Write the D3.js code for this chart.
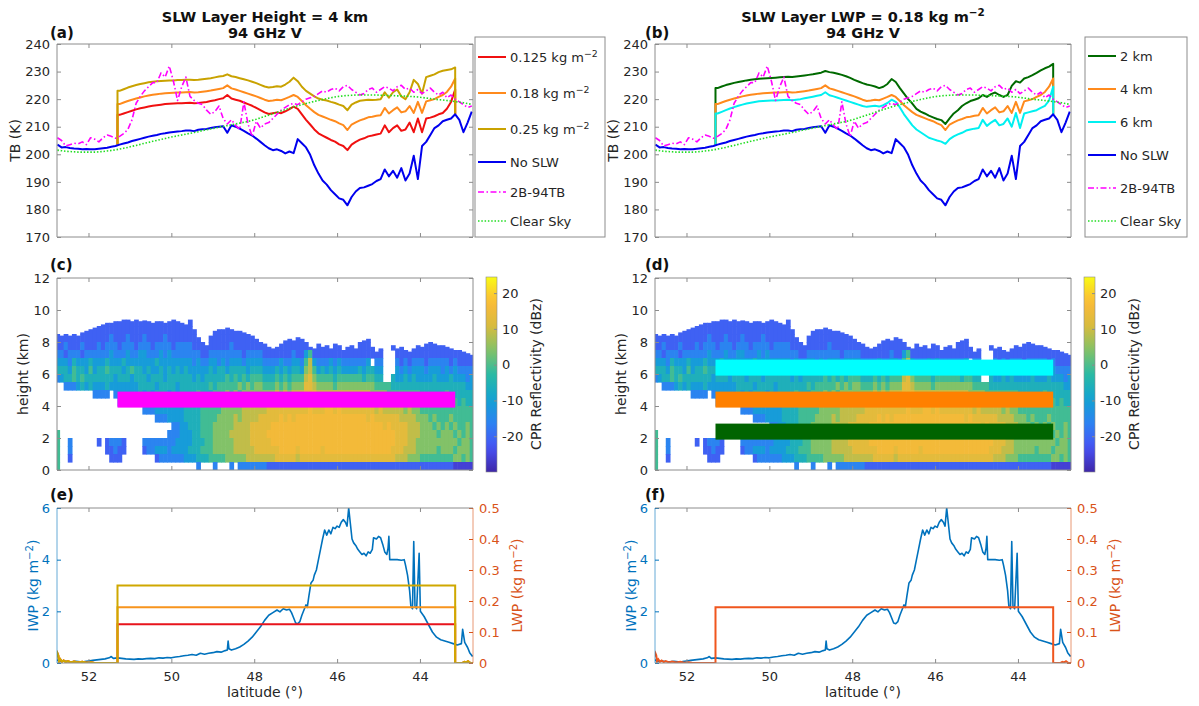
<!DOCTYPE html>
<html>
<head>
<meta charset="utf-8">
<script src="https://cdn.jsdelivr.net/npm/d3@7"></script>
<style>
  body { margin: 0; background: #fff; }
  svg { font-family: "DejaVu Sans", sans-serif; }
</style>
</head>
<body>
<svg id="fig" width="1199" height="706"></svg>
<script>
// ---------------- data ----------------
// TB lines and radar columns are sampled every 0.1 deg, 52.75 N -> 42.75 N
const LAT0 = 52.75, DLAT = 0.1
const latTicks = [52, 50, 48, 46, 44]
const tbTicks = [170, 180, 190, 200, 210, 220, 230, 240]
const heightTicks = [0, 2, 4, 6, 8, 10, 12]
const dbzTicks = [-20, -10, 0, 10, 20]
const iwpTicks = [0, 2, 4, 6]
const lwpTicks = [0, 0.1, 0.2, 0.3, 0.4, 0.5]

const tbNoSlw = [
  203.5,202.5,202.6,202.3,202.1,202.0,201.8,201.9,201.8,201.8,
  202.0,202.2,202.4,202.7,203.0,203.5,203.9,204.3,204.8,205.2,
  205.6,206.0,206.4,206.7,207.0,207.4,207.6,207.9,208.1,208.3,
  208.4,208.6,208.6,208.4,208.9,209.1,209.2,209.5,209.8,210.0,
  210.2,207.8,210.5,210.0,209.3,208.5,207.6,206.8,205.7,204.5,
  203.3,202.2,201.5,201.8,201.2,200.3,201.0,200.4,205.5,204.0,
  202.5,199.8,196.0,193.0,190.5,189.0,187.0,185.5,184.0,183.5,
  181.5,184.5,186.5,187.8,188.0,188.6,189.2,190.3,191.0,194.5,
  192.0,194.0,191.5,195.0,190.5,193.0,199.5,191.0,203.0,204.5,
  207.0,209.5,210.5,212.0,212.5,213.0,214.5,212.5,208.0,211.5,
  215.5]

const tb2B94 = [
  206.0,205.0,203.0,203.5,204.0,203.8,204.5,203.5,206.0,205.5,
  204.5,206.0,207.0,206.5,205.8,206.5,207.5,209.0,212.5,218.5,
  221.0,223.0,224.5,226.0,226.0,229.5,228.0,232.0,226.5,219.5,
  224.5,228.0,221.0,219.5,218.5,218.0,216.0,214.5,215.5,217.5,
  213.0,211.0,212.5,210.5,209.0,219.0,211.0,206.5,212.0,209.5,
  211.0,211.5,213.0,214.5,216.0,217.0,218.0,218.5,218.0,219.0,
  220.0,220.5,221.0,222.0,223.0,222.5,223.5,224.0,223.0,224.5,
  225.0,223.5,222.5,221.5,222.0,223.5,224.0,222.5,223.5,224.5,
  224.0,223.0,224.5,225.0,223.5,224.0,222.5,223.5,222.0,223.0,
  224.0,222.5,221.5,222.5,220.5,221.5,220.0,219.0,218.0,217.0,
  217.5]

const tbClearSky = [
  201.5,201.3,201.1,201.0,200.9,200.8,200.8,200.8,200.8,200.8,
  200.9,201.0,201.2,201.4,201.6,201.9,202.2,202.5,202.9,203.2,
  203.6,204.0,204.3,204.7,205.0,205.4,205.7,206.1,206.4,206.7,
  207.0,207.3,207.6,207.9,208.2,208.6,208.9,209.2,209.5,209.8,
  210.1,210.4,210.7,211.0,211.3,211.6,211.9,212.3,212.7,213.2,
  213.7,214.2,214.7,215.2,215.7,216.2,216.7,217.2,217.6,218.0,
  218.4,218.8,219.2,219.5,219.9,220.2,220.5,220.8,221.0,221.2,
  221.3,221.4,221.5,221.5,221.5,221.5,221.5,221.5,221.4,221.4,
  221.3,221.3,221.2,221.2,221.1,221.0,220.9,220.8,220.6,220.4,
  220.2,220.0,219.8,219.7,219.5,219.3,219.1,218.9,218.7,218.4,
  218.1]

// SLW layer present from 51.3 N to 43.15 N; series below start at grid index 15 (51.25 N)
const slwStart = 51.3, slwEnd = 43.15, SLW_I0 = 15
const tbLwp125 = [
  214.3,214.8,215.3,215.8,216.3,216.7,217.0,217.3,217.6,217.8,
  218.0,218.2,218.3,218.4,218.5,218.5,218.6,218.7,218.5,218.6,
  218.8,219.0,219.3,219.6,220.0,220.3,221.5,220.2,219.8,219.4,
  218.8,218.2,217.6,216.8,216.0,215.2,214.6,214.9,215.2,214.9,
  215.6,216.4,217.3,216.5,214.5,212.5,210.8,209.0,207.6,206.8,
  206.0,205.2,204.6,203.6,203.0,201.5,203.5,204.5,205.3,205.8,
  206.5,206.8,207.2,207.5,210.5,208.0,209.5,210.5,208.5,209.0,
  211.5,208.0,213.0,208.0,213.0,213.3,213.8,214.5,215.0,216.5,
  219.0,223.5]
// 0.18 kg m-2 at 4 km: same run in (a) and (b)
const tbLwp018 = [
  218.2,218.8,219.3,219.8,220.2,220.6,221.0,221.3,221.6,221.8,
  222.0,222.1,222.2,222.3,222.4,222.4,222.5,222.6,222.4,222.5,
  222.7,222.9,223.1,223.4,223.7,224.0,225.0,223.9,223.5,223.0,
  222.5,222.0,221.5,221.0,220.4,219.8,219.3,219.5,219.8,219.6,
  220.2,220.8,221.5,220.8,219.3,217.8,216.5,215.3,214.3,213.7,
  213.1,212.5,212.0,211.2,210.6,208.8,210.8,211.6,212.3,212.8,
  213.4,213.6,214.0,214.2,216.8,214.8,216.0,217.0,215.2,215.6,
  217.5,215.0,219.0,215.0,219.2,219.6,220.0,220.8,221.5,222.6,
  224.5,227.5]
const tbLwp025 = [
  223.0,223.6,224.2,224.7,225.1,225.5,225.8,226.1,226.3,226.5,
  226.6,226.7,226.8,226.8,226.9,226.9,227.0,227.0,226.9,227.0,
  227.2,227.4,227.6,227.9,228.2,228.4,229.0,228.3,228.0,227.6,
  227.2,226.8,226.3,225.8,225.2,224.6,224.2,224.4,224.7,224.5,
  225.3,226.3,227.8,226.5,224.5,223.0,222.0,221.0,220.2,219.8,
  219.5,219.0,218.6,218.0,217.5,216.0,218.0,218.8,219.4,219.6,
  219.8,219.7,219.8,220.0,222.5,220.5,222.5,223.5,221.0,220.0,
  222.5,227.0,225.5,222.0,228.0,228.5,229.0,229.8,230.3,230.6,
  230.8,231.5]
const tbH2km = [
  224.0,224.6,225.1,225.5,225.9,226.2,226.5,226.8,227.0,227.2,
  227.4,227.5,227.6,227.7,227.8,227.9,228.0,228.1,228.0,228.2,
  228.4,228.6,228.8,229.0,229.3,229.6,230.2,229.8,229.6,229.2,
  228.8,228.3,227.7,227.0,226.4,225.8,225.3,225.0,224.6,224.0,
  224.5,225.5,227.3,226.2,224.0,222.0,220.0,218.4,216.5,215.5,
  214.8,214.0,213.4,212.8,212.4,211.0,213.0,214.8,216.0,217.5,
  218.5,219.3,219.8,220.3,221.5,220.8,221.8,222.4,221.5,220.8,
  221.5,224.8,226.5,226.0,227.5,228.0,228.7,229.5,230.4,231.2,
  231.8,232.8]
const tbH6km = [
  214.8,215.4,216.0,216.6,217.1,217.6,218.0,218.4,218.7,219.0,
  219.2,219.3,219.4,219.5,219.5,219.6,219.7,219.8,219.6,219.8,
  220.0,220.3,220.6,220.9,221.2,221.5,222.5,221.4,221.0,220.5,
  220.0,219.5,219.0,218.5,218.0,217.5,217.2,217.4,217.6,217.3,
  217.8,218.6,219.8,219.0,217.0,214.5,212.5,210.5,209.0,208.0,
  207.0,206.0,205.5,205.0,204.6,203.8,205.5,206.5,207.2,207.8,
  208.6,209.0,209.3,209.5,212.5,210.3,211.5,212.5,210.5,211.0,
  213.0,210.0,215.0,209.5,214.8,215.2,215.6,216.0,216.8,217.6,
  219.5,224.5]

const lwpLevels = [0.125, 0.18, 0.25]
const layerHeights = [2, 4, 6]   // SLW layer bottoms (km)

const iwpLat = [52.76,52.74,52.70,52.60,52.50,52.40,52.30,52.20,52.10,52.00,51.90,51.80,51.70,51.60,51.50,51.45,51.40,51.30,51.20,51.10,
  51.00,50.90,50.80,50.70,50.60,50.50,50.40,50.30,50.20,50.10,50.00,49.90,49.80,49.70,49.60,49.50,49.40,49.30,49.20,49.10,
  49.00,48.90,48.80,48.70,48.65,48.63,48.61,48.55,48.45,48.35,48.25,48.15,48.05,47.95,47.85,47.75,47.65,47.55,47.45,47.38,
  47.30,47.22,47.15,47.10,47.05,47.00,46.95,46.90,46.85,46.80,46.75,46.72,46.68,46.63,46.58,46.55,46.50,46.45,46.40,46.35,
  46.30,46.25,46.20,46.15,46.10,46.05,46.00,45.95,45.90,45.85,45.80,45.76,45.72,45.68,45.64,45.60,45.55,45.50,45.45,45.40,
  45.35,45.30,45.25,45.20,45.15,45.12,45.05,45.00,44.95,44.90,44.85,44.80,44.77,44.75,44.73,44.65,44.55,44.45,44.38,44.35,
  44.30,44.25,44.22,44.18,44.15,44.12,44.08,44.02,43.99,43.90,43.80,43.70,43.60,43.50,43.40,43.30,43.20,43.10,43.00,42.97,
  42.92,42.85,42.80,42.73]
const iwpVal = [0.08,0.12,0.05,0.08,0.06,0.05,0.07,0.05,0.06,0.08,0.10,0.12,0.14,0.16,0.20,0.25,0.18,0.20,0.18,0.16,
  0.15,0.14,0.16,0.15,0.17,0.18,0.17,0.20,0.19,0.21,0.20,0.23,0.25,0.28,0.30,0.33,0.30,0.38,0.34,0.38,
  0.40,0.44,0.42,0.48,0.50,0.85,0.55,0.50,0.55,0.62,0.72,0.85,1.00,1.20,1.40,1.65,1.85,1.95,2.05,1.98,
  2.10,2.05,2.08,1.95,1.75,1.55,1.52,1.60,1.85,2.05,2.25,2.15,2.60,3.10,3.20,3.40,3.60,4.00,4.40,4.80,
  5.15,4.95,5.15,5.00,5.25,5.20,5.30,5.25,5.45,5.55,5.45,5.30,6.00,5.40,4.80,4.65,4.55,4.40,4.30,4.20,
  4.25,4.15,4.30,4.25,4.40,4.85,4.80,4.90,4.85,4.60,4.30,4.20,4.45,4.90,4.00,4.00,4.00,3.98,4.00,3.80,
  3.40,2.80,2.20,2.10,4.70,2.20,2.10,4.25,2.00,1.80,1.50,1.20,1.00,0.90,0.85,0.80,0.75,0.70,0.75,1.30,
  0.80,0.60,0.40,0.25]

// near-zero LWP outside the SLW layer
const lwpLeftLat = [52.76,52.745,52.73,52.71,52.68,52.64,52.60,52.55,52.50,52.42,52.35,52.25,52.15,52.05,51.95,51.85,51.3]
const lwpLeftVal = [0.02,0.03,0.025,0.006,0.012,0.004,0.008,0.003,0.006,0.002,0.005,0.002,0.004,0.001,0.002,0,0]
const lwpRightLat = [43.15,42.98,42.93,42.88,42.84,42.79,42.72]
const lwpRightVal = [0,0,0.004,0.002,0.006,0.001,0]

// CloudSat echo top (km) per 0.1 deg column
const echoTop = [
  8.5,8.4,8.5,8.4,8.5,8.4,8.6,8.7,8.8,8.9,
  9.0,9.1,9.2,9.2,9.3,9.3,9.4,9.4,9.3,9.4,
  9.3,9.35,9.3,9.2,9.3,9.3,9.2,9.3,9.4,9.3,
  9.2,9.1,9.4,8.8,8.3,8.0,7.8,8.4,8.7,8.8,
  8.8,8.9,8.8,8.7,8.7,8.6,8.5,8.4,8.2,8.0,
  7.9,7.7,7.6,7.7,7.9,8.1,8.2,8.1,8.3,8.2,
  8.0,7.7,7.6,7.9,7.7,7.8,7.6,7.9,7.8,7.5,
  7.7,7.8,7.6,8.0,8.1,8.2,7.7,7.4,7.6,7.0,
  7.5,7.8,7.6,7.7,7.5,7.4,7.6,7.8,7.7,7.9,
  8.0,7.9,7.8,7.8,7.7,7.6,7.5,7.5,7.4,7.3,
  7.2]

// reflectivity level (dBZ) of each digit used in dbzRows
const codeDbz = [-26, -21, -16, -11, -6, -1, 4, 9, 13, 16]
// CPR reflectivity, 0.5 km rows from 9.0-9.5 km (first) down to 0-0.5 km (last).
// one char per 0.1 deg column: '.' = no echo, digit = index into codeDbz
const dbzRows = [
  ".......... .111111111 1111111111 111....... .......... .......... .......... .......... .......... .......... .",
  "......1111 1111111111 1111111111 1111....11 111111.... .......... .......... .......... .......... .......... .",
  "1111111111 1112111211 1211112111 11111..111 111111111. .....11111 .......... ....11.... .......... .......... .",
  "1121112111 2122212221 2221222212 2221111111 1121111111 1111111111 111111111. 1111111.1. .111..1111 111111.... .",
  "2212221222 2223222322 3322232322 2222211222 2222212222 1111111211 3511111111 111111111. ..11111111 1111111111 1",
  "3332433343 3343334333 3333433333 3332322332 3233323333 2222322332 5732223232 222223.22. ..21212221 2222212111 1",
  "4443544353 4454443454 4343343434 3433333434 4344443444 3334343443 6753434343 333434433. ..32323332 3332323222 2",
  "2344545444 4444344434 4434443444 4443434444 4545454555 4445454555 7865555455 555545544. .433434333 3433343332 3",
  "..22234343 3343333333 4444344443 4444444545 5555656566 5556565666 8876666566 6666666555 5444444444 4444444443 3",
  ".........2 222.233333 4343444343 4444544455 5656566666 6667676777 8887777777 7777776666 5555555544 4444544444 4",
  ".......... .....22233 3333334333 4445545555 6666667677 7777878788 8888888888 8888887777 6666565555 5454545454 4",
  ".......... .......... .222333333 3444455555 6666677777 7888888888 8988899898 8888888787 7777676655 5555555555 5",
  ".......... .......... ....222333 3444455556 6667677778 8888989899 9999999999 9999989888 8887777666 5655565555 5",
  ".......... .......... ........22 3344455566 6667777888 8899999999 9999999999 9999999998 9888877766 6565656556 5",
  "5......... .......... .......222 3334455566 6677777888 8999999999 9999999999 9999999999 9988877766 6656665656 5",
  "5..2...... 1.12221... .222222223 3334445566 6667777888 8899999999 9999999999 9999999999 9988877666 6666666566 5",
  "5..2...... ..11211... .122333233 3344455566 6667777788 8888999989 9999899999 9999999999 9888777666 6656665666 5",
  "5..1...... ...111.... ....122222 2333444555 5666667777 7778888878 8888888888 8888888888 8877766655 5555556656 5",
  "5......... .......... .......... ....2...2. ..2.222222 2111111111 1111111111 1111111111 1111111111 1111110000 0"
]

// ---------------- drawing ----------------
const svg = d3.select("#fig")
const defs = svg.append("defs")
const INK = "#262626", BOX = "#8c8c8c"
const IWP_C = "#0072BD", LWP_C = "#D95319"

const xL = d3.scaleLinear().domain([52.76, 42.72]).range([57, 473])
const xR = d3.scaleLinear().domain([52.76, 42.72]).range([655, 1071])
const yTB = d3.scaleLinear().domain([170, 240]).range([237, 44])
const yH = d3.scaleLinear().domain([0, 12]).range([470, 278])
const yIWP = d3.scaleLinear().domain([0, 6]).range([663, 508])
const yLWP = d3.scaleLinear().domain([0, 0.5]).range([663, 508])
const yCbar = d3.scaleLinear().domain([-30, 24.5]).range([472, 277])
const parula = ["#3E26A8","#4852F4","#2C82F2","#12A3D2","#2ABAA4","#83C267","#D8BB3E","#FCBA38","#F9FB14"]
const color = d3.scaleSequential(d3.piecewise(d3.interpolateRgb, parula)).domain([-30, 24.5])

const gridLat = i => LAT0 - i * DLAT
const gridPts = arr => arr.map((v, i) => [gridLat(i), v])
const slwPts = arr => [[slwStart, tbNoSlw[SLW_I0]], [slwStart, arr[0]]]
  .concat(arr.map((v, k) => [gridLat(SLW_I0 + k), v]))
  .concat([[slwEnd, tbNoSlw[SLW_I0 + arr.length - 1]]])

function clip(id, x, y) {
  defs.append("clipPath").attr("id", id).append("rect")
    .attr("x", x.range()[0]).attr("y", y.range()[1])
    .attr("width", x.range()[1] - x.range()[0]).attr("height", y.range()[0] - y.range()[1])
  return `url(#${id})`
}

// text with ^superscript parts
function rich(text, parts, lift) {
  lift = lift || 5
  let up = false
  parts.forEach(p => {
    const sup = p.startsWith("^")
    const ts = text.append("tspan").text(sup ? p.slice(1) : p)
    if (sup) ts.attr("dy", -lift).attr("font-size", "0.72em")
    else if (up) ts.attr("dy", lift)
    up = sup
  })
  return text
}

function styleAxis(a, c) {
  a.attr("font-family", "DejaVu Sans").attr("font-size", 13)
  a.select(".domain").remove()
  a.selectAll(".tick line").attr("stroke", c || BOX)
  a.selectAll(".tick text").attr("fill", c || INK)
}

function frame(g, x, y, yTicks, o) {
  o = o || {}
  const [xa, xb] = x.range(), [yb, ya] = y.range()
  g.append("g").attr("transform", `translate(0,${yb})`)
    .call(d3.axisBottom(x).tickValues(latTicks).tickSize(-4).tickPadding(9).tickFormat(o.xLabels ? (d => d) : ""))
    .call(a => styleAxis(a))
  g.append("g").attr("transform", `translate(0,${ya})`)
    .call(d3.axisTop(x).tickValues(latTicks).tickSize(-4).tickFormat(""))
    .call(a => styleAxis(a))
  g.append("g").attr("transform", `translate(${xa},0)`)
    .call(d3.axisLeft(y).tickValues(yTicks).tickSize(-4).tickPadding(7).tickFormat(d => d))
    .call(a => styleAxis(a, o.leftColor))
  if (o.right) {
    g.append("g").attr("transform", `translate(${xb},0)`)
      .call(d3.axisRight(o.right).tickValues(o.rightTicks).tickSize(-4).tickPadding(6).tickFormat(d => d))
      .call(a => styleAxis(a, o.rightColor))
  } else {
    g.append("g").attr("transform", `translate(${xb},0)`)
      .call(d3.axisRight(y).tickValues(yTicks).tickSize(-4).tickFormat(""))
      .call(a => styleAxis(a))
  }
  const edge = (x1, y1, x2, y2, c, op) => g.append("line")
    .attr("x1", x1).attr("y1", y1).attr("x2", x2).attr("y2", y2)
    .attr("stroke", c).attr("stroke-opacity", op || 1).attr("stroke-width", 1)
  edge(xa, ya, xb, ya, BOX); edge(xa, yb, xb, yb, BOX)
  edge(xa, ya, xa, yb, o.leftColor || BOX, o.leftColor ? 0.6 : 1)
  edge(xb, ya, xb, yb, o.rightColor || BOX, o.rightColor ? 0.6 : 1)
}

function tag(x, y, s) {
  svg.append("text").attr("x", x).attr("y", y).attr("font-weight", "bold")
    .attr("font-size", 15).attr("fill", "#111").text(s)
}

function vLabel(x, y, parts, c) {
  const t = svg.append("text").attr("transform", `translate(${x},${y}) rotate(-90)`)
    .attr("text-anchor", "middle").attr("font-size", 14).attr("fill", c || INK)
  rich(t, parts)
}

function legend(x0, x1, y0, y1, entries, rows) {
  const g = svg.append("g")
  g.append("rect").attr("x", x0).attr("y", y0).attr("width", x1 - x0).attr("height", y1 - y0)
    .attr("fill", "#fff").attr("stroke", BOX)
  entries.forEach((e, k) => {
    g.append("line").attr("x1", x0 + 3).attr("x2", x0 + 31).attr("y1", rows[k]).attr("y2", rows[k])
      .attr("stroke", e.color).attr("stroke-width", e.w).attr("stroke-dasharray", e.dash || null)
    rich(g.append("text").attr("x", x0 + 35).attr("y", rows[k] + 4.5).attr("font-size", 13).attr("fill", INK), e.label)
  })
}

// ---- TB panels (a), (b)
const common = [
  { pts: gridPts(tbNoSlw), color: "#0000ee", w: 2, label: ["No SLW"] },
  { pts: gridPts(tb2B94), color: "#ff00ff", w: 1.6, dash: "6,2.5,1.5,2.5", label: ["2B-94TB"] },
  { pts: gridPts(tbClearSky), color: "#22dd22", w: 1.6, dash: "1.5,1.8", label: ["Clear Sky"] }
]
const linesA = [
  { pts: slwPts(tbLwp125), color: "#f01010", w: 2, label: ["0.125 kg m", "^\u22122"] },
  { pts: slwPts(tbLwp018), color: "#ff8a1c", w: 2, label: ["0.18 kg m", "^\u22122"] },
  { pts: slwPts(tbLwp025), color: "#c9a200", w: 2, label: ["0.25 kg m", "^\u22122"] }
].concat(common)
const linesB = [
  { pts: slwPts(tbH2km), color: "#006a00", w: 2, label: ["2 km"] },
  { pts: slwPts(tbLwp018), color: "#ff8a1c", w: 2, label: ["4 km"] },
  { pts: slwPts(tbH6km), color: "#00f0f0", w: 2, label: ["6 km"] }
].concat(common)

function tbPanel(x, id, lines) {
  const g = svg.append("g")
  const plot = g.append("g").attr("clip-path", clip(id, x, yTB))
  const line = d3.line().x(d => x(d[0])).y(d => yTB(d[1]))
  lines.forEach(s => plot.append("path").datum(s.pts).attr("d", line)
    .attr("fill", "none").attr("stroke", s.color).attr("stroke-width", s.w)
    .attr("stroke-dasharray", s.dash || null).attr("stroke-linejoin", "round"))
  frame(g, x, yTB, tbTicks)
}
tbPanel(xL, "clipA", linesA)
tbPanel(xR, "clipB", linesB)

function title(x, parts) {
  const t1 = svg.append("text").attr("x", x).attr("y", 22).attr("text-anchor", "middle")
    .attr("font-weight", "bold").attr("font-size", 14.5).attr("fill", "#111")
  rich(t1, parts, 6)
  svg.append("text").attr("x", x).attr("y", 38).attr("text-anchor", "middle")
    .attr("font-weight", "bold").attr("font-size", 14.5).attr("fill", "#111").text("94 GHz V")
}
title(265, ["SLW Layer Height = 4 km"])
title(863, ["SLW Layer LWP = 0.18 kg m", "^\u22122"])
tag(50, 38, "(a)"); tag(645, 38, "(b)")
vLabel(20, 140.5, ["TB (K)"]); vLabel(618, 140.5, ["TB (K)"])
legend(475, 605, 37, 237, linesA, [57, 93, 129, 162, 192, 221])
legend(1085, 1187, 37, 237, linesB, [56, 89, 122, 155, 188, 221])

// ---- radar panels (c), (d)
const cells = []
dbzRows.forEach((row, k) => {
  const r = dbzRows.length - 1 - k
  const s = row.replace(/ /g, "")
  for (let i = 0; i < s.length; i++) {
    if (s[i] === ".") continue
    const h0 = r * 0.5, h1 = Math.min(h0 + 0.5, echoTop[i])
    if (h1 <= h0) continue
    cells.push({ lat: gridLat(i), h0, h1, dbz: codeDbz[+s[i]] })
  }
})

const grad = defs.append("linearGradient").attr("id", "parula")
  .attr("x1", 0).attr("y1", 1).attr("x2", 0).attr("y2", 0)
d3.range(0, 1.0001, 0.05).forEach(t => grad.append("stop").attr("offset", t)
  .attr("stop-color", color(-30 + 54.5 * t)))

function radarPanel(x, id, bars) {
  const g = svg.append("g")
  const plot = g.append("g").attr("clip-path", clip(id, x, yH))
  plot.selectAll("rect.cell").data(cells).join("rect").attr("class", "cell")
    .attr("x", d => x(d.lat + DLAT / 2)).attr("width", d => x(d.lat - DLAT / 2) - x(d.lat + DLAT / 2) + 0.6)
    .attr("y", d => yH(d.h1)).attr("height", d => yH(d.h0) - yH(d.h1) + 0.6)
    .attr("fill", d => color(d.dbz))
  bars.forEach(b => plot.append("rect")
    .attr("x", x(slwStart)).attr("width", x(slwEnd) - x(slwStart))
    .attr("y", yH(b.h + 0.9)).attr("height", yH(b.h - 0.1) - yH(b.h + 0.9))
    .attr("fill", b.color))
  frame(g, x, yH, heightTicks)
  // colour bar
  const cx = x.range()[1] + 13
  g.append("rect").attr("x", cx).attr("y", 277).attr("width", 11).attr("height", 195)
    .attr("fill", "url(#parula)").attr("stroke", BOX).attr("stroke-width", 0.6)
  g.append("g").attr("transform", `translate(${cx + 11},0)`)
    .call(d3.axisRight(yCbar).tickValues(dbzTicks).tickSize(-3).tickPadding(5).tickFormat(d => String(d)))
    .call(a => styleAxis(a))
  vLabel(cx + 55, 374, ["CPR Reflectivity (dBz)"])
}
radarPanel(xL, "clipC", [{ h: layerHeights[1], color: "#ff00ff" }])
radarPanel(xR, "clipD", [
  { h: layerHeights[2], color: "#00ffff" },
  { h: layerHeights[1], color: "#ff8000" },
  { h: layerHeights[0], color: "#006400" }
])
tag(50, 270, "(c)"); tag(645, 270, "(d)")
vLabel(28, 374, ["height (km)"]); vLabel(626, 374, ["height (km)"])

// ---- IWP / LWP panels (e), (f)
const iwpPts = iwpLat.map((l, i) => [l, iwpVal[i]])
const lwpPts = level => lwpLeftLat.map((l, i) => [l, lwpLeftVal[i]])
  .concat([[slwStart, level], [slwEnd, level]])
  .concat(lwpRightLat.map((l, i) => [l, lwpRightVal[i]]))

function waterPanel(x, id, lwpLines) {
  const g = svg.append("g")
  const plot = g.append("g").attr("clip-path", clip(id, x, yIWP))
  plot.append("path").datum(iwpPts)
    .attr("d", d3.line().x(d => x(d[0])).y(d => yIWP(d[1])))
    .attr("fill", "none").attr("stroke", IWP_C).attr("stroke-width", 1.6).attr("stroke-linejoin", "round")
  const lw = d3.line().x(d => x(d[0])).y(d => yLWP(d[1]))
  lwpLines.forEach(s => plot.append("path").datum(lwpPts(s.level)).attr("d", lw)
    .attr("fill", "none").attr("stroke", s.color).attr("stroke-width", 2))
  frame(g, x, yIWP, iwpTicks, { xLabels: true, leftColor: IWP_C, right: yLWP, rightTicks: lwpTicks, rightColor: LWP_C })
  svg.append("text").attr("x", (x.range()[0] + x.range()[1]) / 2).attr("y", 697)
    .attr("text-anchor", "middle").attr("font-size", 14).attr("fill", INK).text("latitude (\u00B0)")
}
waterPanel(xL, "clipE", [
  { level: lwpLevels[0], color: "#e8141c" },
  { level: lwpLevels[1], color: "#f7941d" },
  { level: lwpLevels[2], color: "#cfa800" }
])
waterPanel(xR, "clipF", [{ level: lwpLevels[1], color: "#f0561e" }])
tag(50, 500, "(e)"); tag(645, 500, "(f)")
vLabel(38, 585.5, ["IWP (kg m", "^\u22122", ")"], IWP_C); vLabel(636, 585.5, ["IWP (kg m", "^\u22122", ")"], IWP_C)
vLabel(522, 585.5, ["LWP (kg m", "^\u22122", ")"], LWP_C); vLabel(1120, 585.5, ["LWP (kg m", "^\u22122", ")"], LWP_C)
</script>
</body>
</html>
